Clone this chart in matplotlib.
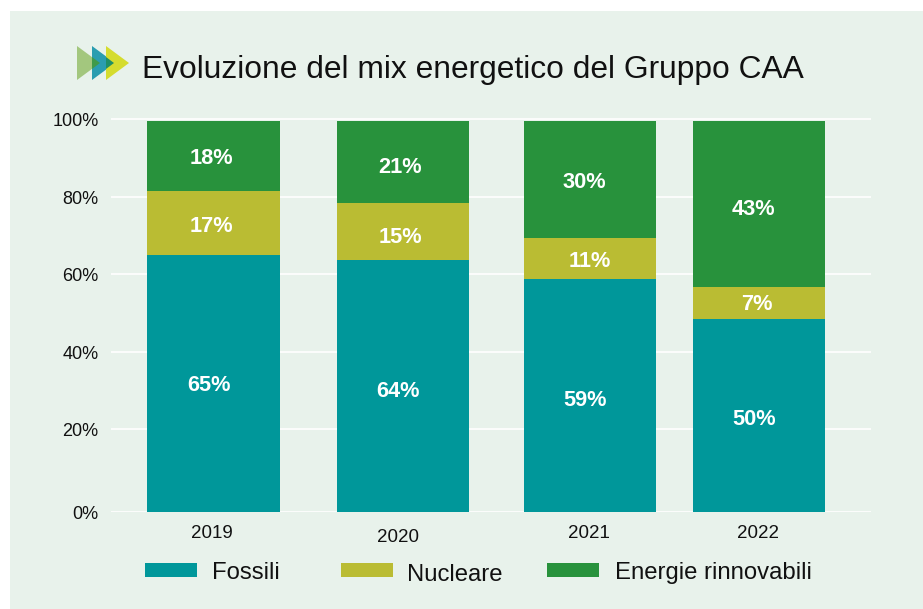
#!/usr/bin/env python3
"""Stacked bars: evoluzione del mix energetico del Gruppo CAA."""

import matplotlib
matplotlib.use("Agg")
import matplotlib.pyplot as plt
from matplotlib.patches import Polygon, Rectangle
from matplotlib.transforms import ScaledTranslation

W, H = 923, 609

years = ["2019", "2020", "2021", "2022"]
fossili = [65.7, 64.4, 59.6, 49.4]
nucleare = [16.3, 14.6, 10.4, 8.2]
rinnovabili = [18.0, 21.0, 30.0, 42.4]

fossili_labels = ["65%", "64%", "59%", "50%"]
nucleare_labels = ["17%", "15%", "11%", "7%"]
rinnovabili_labels = ["18%", "21%", "30%", "43%"]

ytick_labels = ["0%", "20%", "40%", "60%", "80%", "100%"]
# the gridlines of the original are not evenly spaced
ytick_pos = [0.15, 21.2, 40.9, 60.8, 80.6, 100.4]

# neither are the bars
BAR_X = [0, 1, 1.987, 2.879]
BAR_W = 0.70

TEAL = "#00979A"
OLIVE = "#BABC33"
GREEN = "#28923C"
PANEL = "#E8F2EB"
TEXT = "#111111"

plt.rcParams["font.family"] = ["Liberation Sans", "DejaVu Sans"]


def fx(px):
    return px / W


def fy(py):
    return 1 - py / H


fig = plt.figure(figsize=(W / 100, H / 100), dpi=100, facecolor="white")
fig.patches.append(Rectangle((fx(10), 0), fx(913), 598 / H, transform=fig.transFigure,
                             facecolor=PANEL, edgecolor="none", zorder=-5))

ax = fig.add_axes([fx(111), fy(512.3), 760 / W, 395.5 / H])
ax.set_facecolor("none")
ax.set_xlim((111 - 213.5) / 189.5, (871 - 213.5) / 189.5)
ax.set_ylim(0, 101)
for s in ax.spines.values():
    s.set_visible(False)

ax.set_axisbelow(True)
ax.yaxis.grid(True, color="#FBFCFB", linewidth=1.5)
ax.set_yticks(ytick_pos)
ax.set_yticklabels(ytick_labels, fontsize=13, color=TEXT)
ax.tick_params(axis="y", length=0, pad=9)
ax.set_xticks([])
shift = ScaledTranslation(0, -0.5 / 72, fig.dpi_scale_trans)
for lab in ax.get_yticklabels():
    lab.set_transform(lab.get_transform() + shift)

bottom_n = fossili
bottom_r = [f + n for f, n in zip(fossili, nucleare)]
ax.bar(BAR_X, fossili, width=BAR_W, color=TEAL, zorder=3)
ax.bar(BAR_X, nucleare, width=BAR_W, bottom=bottom_n, color=OLIVE, zorder=3)
ax.bar(BAR_X, rinnovabili, width=BAR_W, bottom=bottom_r, color=GREEN, zorder=3)

# label nudges in pixels, one pair per bar, as the labels sit off-centre in the original
offs_f = [(-4.5, 0), (-5, -4), (-5, -3), (-5, -2)]
offs_n = [(-2.5, -2), (-3, -4), (0, -1), (-2, 0)]
offs_r = [(-2.5, -1.5), (-3, -4.5), (-6, -2), (-6, -4)]

for i, x in enumerate(BAR_X):
    segs = [
        (fossili[i] / 2, fossili_labels[i], offs_f[i]),
        (bottom_n[i] + nucleare[i] / 2, nucleare_labels[i], offs_n[i]),
        (bottom_r[i] + rinnovabili[i] / 2, rinnovabili_labels[i], offs_r[i]),
    ]
    for y, label, (dx, dy) in segs:
        ax.annotate(label, (x, y), xytext=(dx * 0.72, (dy - 1.5) * 0.72),
                    textcoords="offset points", ha="center", va="center", color="white",
                    fontsize=15.7, fontweight="bold", zorder=5)

# year labels are slightly uneven too
for year, px, py in zip(years, [212, 398, 589, 758], [534, 537, 534, 534]):
    fig.text(fx(px), fy(py), year, ha="center", va="center", fontsize=13.5, color=TEXT)

# legend
legend = [("Fossili", TEAL, 145, 212, 573), ("Nucleare", OLIVE, 341, 407, 575),
          ("Energie rinnovabili", GREEN, 547, 615, 573)]
for name, color, px, tx, ty in legend:
    fig.patches.append(Rectangle((fx(px), fy(577)), 52 / W, 14 / H, transform=fig.transFigure,
                                 facecolor=color, edgecolor="none"))
    fig.text(fx(tx), fy(ty), name, ha="left", va="center", fontsize=17.2, color=TEXT)

# title and arrow logo
fig.text(fx(142), fy(70), "Evoluzione del mix energetico del Gruppo CAA", ha="left", va="center",
         fontsize=22.9, color=TEXT)
logo = [(77, 46, 80, "#A3C77E"), (92, 46, 80, "#2A9DB0"), (106, 46, 80, "#D5DC2E")]
for px, top, bot, color in logo:
    tri = [(fx(px), fy(top)), (fx(px), fy(bot)), (fx(px + 23), fy((top + bot) / 2))]
    fig.patches.append(Polygon(tri, closed=True, transform=fig.transFigure, facecolor=color,
                               edgecolor="none"))
# where the arrows overlap the colour goes dark
for px, half, tip, color in [(92, 6, 100, "#3F9A4A"), (106, 6, 114, "#1F8F66")]:
    tri = [(fx(px), fy(63 - half)), (fx(px), fy(63 + half)), (fx(tip), fy(63))]
    fig.patches.append(Polygon(tri, closed=True, transform=fig.transFigure, facecolor=color,
                               edgecolor="none"))

fig.savefig("out.png", dpi=100)
plt.close(fig)
